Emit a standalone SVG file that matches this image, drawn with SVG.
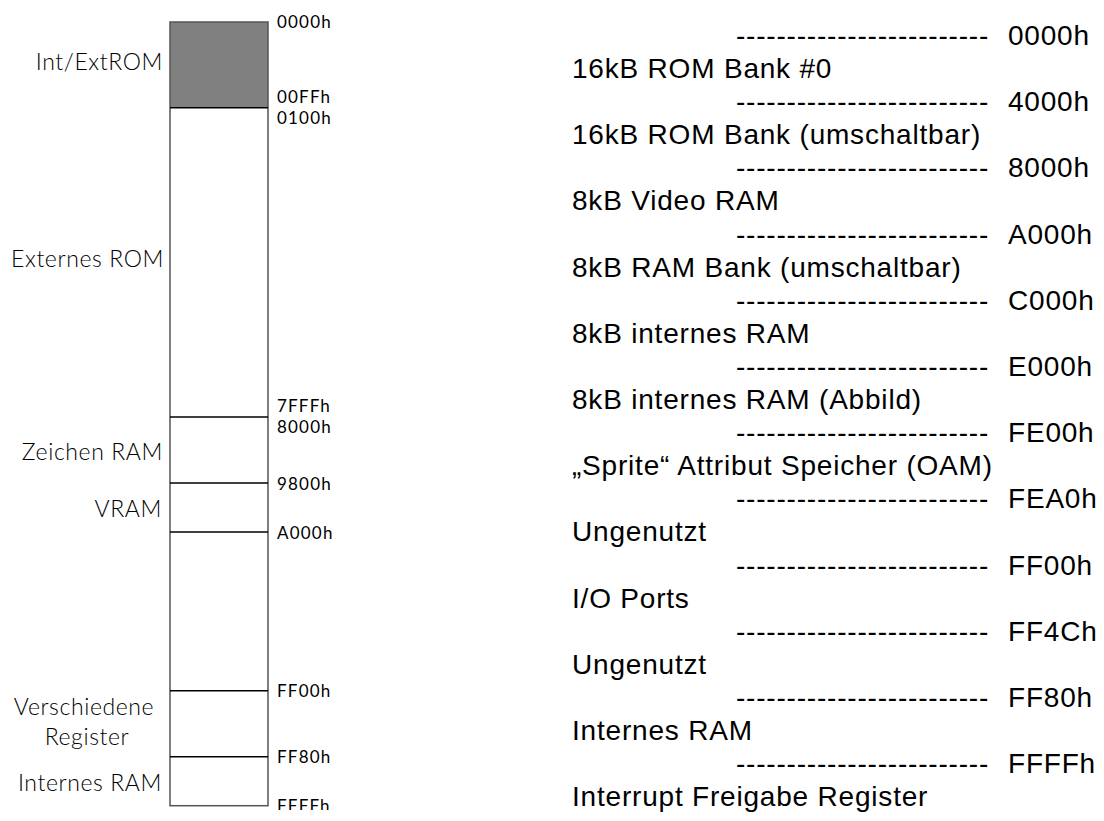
<svg xmlns="http://www.w3.org/2000/svg" width="1104" height="821" viewBox="0 0 1104 821">
<style>
.lbl{font-family:Lato,"Liberation Sans",sans-serif;font-weight:300;font-size:23px;fill:#000;letter-spacing:0.6px}
.adr{font-family:Lato,"Liberation Sans",sans-serif;font-weight:400;font-size:17px;fill:#000;letter-spacing:1.2px}
.div{stroke:#000;stroke-width:1.5;fill:none}
.r{font-family:"Liberation Sans",Arial,sans-serif;font-size:28px;fill:#000;letter-spacing:0.8px}
</style>
<defs>
<clipPath id="cut"><rect x="0" y="0" width="1104" height="810"/></clipPath>
</defs>
<rect width="1104" height="821" fill="#fff"/>
<g id="memory-bar">
<rect x="170" y="22" width="98" height="85.7" fill="#808080"/>
<rect x="170" y="22" width="98" height="783.7" fill="none" stroke="#555" stroke-width="1.5"/>
</g>
<g id="dividers">
<line class="div" x1="170" y1="107.7" x2="268" y2="107.7"/>
<line class="div" x1="170" y1="417" x2="268" y2="417"/>
<line class="div" x1="170" y1="483" x2="268" y2="483"/>
<line class="div" x1="170" y1="532" x2="268" y2="532"/>
<line class="div" x1="170" y1="690.7" x2="268" y2="690.7"/>
<line class="div" x1="170" y1="756.7" x2="268" y2="756.7"/>
</g>
<g id="left-labels" class="lbl" text-anchor="end">
<text id="n-intext" x="163" y="70">Int/ExtROM</text>
<text id="n-extrom" x="164" y="267">Externes ROM</text>
<text id="n-zeichen" x="163" y="460">Zeichen RAM</text>
<text id="n-vram" x="162" y="517">VRAM</text>
<text id="n-versch" x="84" y="715" text-anchor="middle">Verschiedene</text>
<text id="n-register" x="87" y="745" text-anchor="middle">Register</text>
<text id="n-intram" x="162" y="791">Internes RAM</text>
</g>
<g id="left-addresses" class="adr" clip-path="url(#cut)">
<text x="277" y="28">0000h</text>
<text x="277" y="103">00FFh</text>
<text x="277" y="124">0100h</text>
<text x="277" y="412">7FFFh</text>
<text x="277" y="433">8000h</text>
<text x="277" y="490">9800h</text>
<text x="277" y="539">A000h</text>
<text x="277" y="697">FF00h</text>
<text x="277" y="763">FF80h</text>
<text x="277" y="812">FFFFh</text>
</g>
<g id="right-map" class="r">
<g id="r0"><text x="736" y="45">-------------------------</text><text x="1008" y="45">0000h</text><text x="572" y="78">16kB ROM Bank #0</text></g>
<g id="r1"><text x="736" y="111.2">-------------------------</text><text x="1008" y="111.2">4000h</text><text x="572" y="144.2">16kB ROM Bank (umschaltbar)</text></g>
<g id="r2"><text x="736" y="177.4">-------------------------</text><text x="1008" y="177.4">8000h</text><text x="572" y="210.4">8kB Video RAM</text></g>
<g id="r3"><text x="736" y="243.6">-------------------------</text><text x="1008" y="243.6">A000h</text><text x="572" y="276.6">8kB RAM Bank (umschaltbar)</text></g>
<g id="r4"><text x="736" y="309.8">-------------------------</text><text x="1008" y="309.8">C000h</text><text x="572" y="342.8">8kB internes RAM</text></g>
<g id="r5"><text x="736" y="376">-------------------------</text><text x="1008" y="376">E000h</text><text x="572" y="409">8kB internes RAM (Abbild)</text></g>
<g id="r6"><text x="736" y="442.2">-------------------------</text><text x="1008" y="442.2">FE00h</text><text x="572" y="475.2">„Sprite“ Attribut Speicher (OAM)</text></g>
<g id="r7"><text x="736" y="508.4">-------------------------</text><text x="1008" y="508.4">FEA0h</text><text x="572" y="541.4">Ungenutzt</text></g>
<g id="r8"><text x="736" y="574.6">-------------------------</text><text x="1008" y="574.6">FF00h</text><text x="572" y="607.6">I/O Ports</text></g>
<g id="r9"><text x="736" y="640.8">-------------------------</text><text x="1008" y="640.8">FF4Ch</text><text x="572" y="673.8">Ungenutzt</text></g>
<g id="r10"><text x="736" y="707">-------------------------</text><text x="1008" y="707">FF80h</text><text x="572" y="740">Internes RAM</text></g>
<g id="r11"><text x="736" y="773.2">-------------------------</text><text x="1008" y="773.2">FFFFh</text><text x="572" y="806.2">Interrupt Freigabe Register</text></g>
</g>
</svg>
